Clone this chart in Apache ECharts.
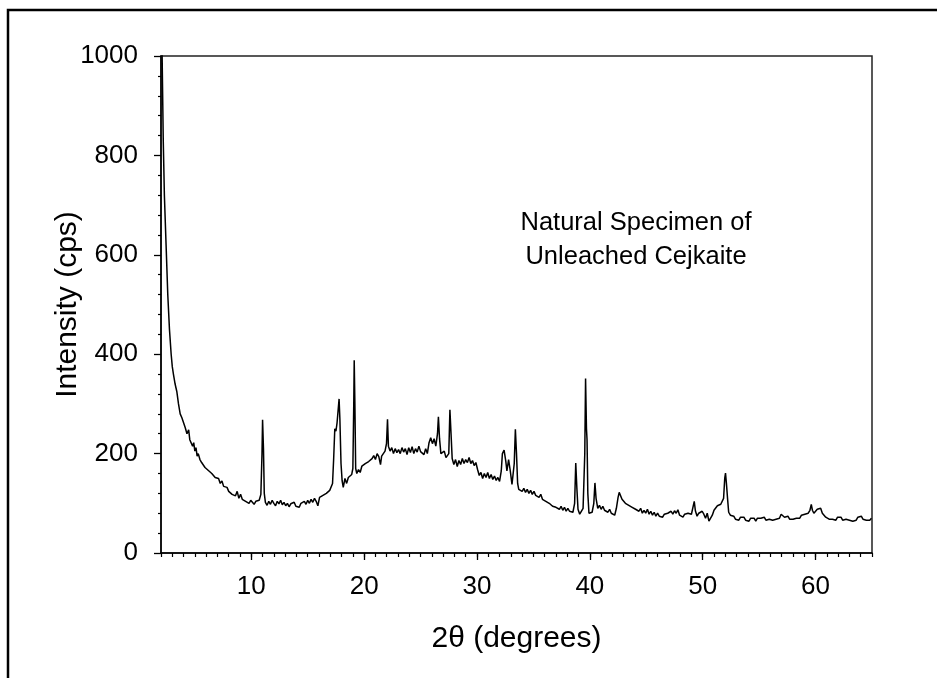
<!DOCTYPE html>
<html>
<head>
<meta charset="utf-8">
<script src="https://cdn.jsdelivr.net/npm/echarts@6/dist/echarts.min.js"></script>
<style>
  html, body { margin: 0; padding: 0; background: #fff; }
  #chart { width: 937px; height: 678px; }
</style>
</head>
<body>
<div id="chart"></div>
<script>
// 2-theta positions (degrees) and intensities (cps)
var twoTheta = [
  2.02, 2.1, 2.2, 2.3, 2.45, 2.6, 2.75, 2.9, 3.0, 3.1, 3.25, 3.4, 3.55, 3.7, 3.85, 4.0, 4.15, 4.3, 4.45, 4.55,
  4.7, 4.8, 4.9, 5.0, 5.1, 5.2, 5.3, 5.45, 5.6, 5.75, 5.9, 6.05, 6.2, 6.35, 6.5, 6.65, 6.8, 6.95, 7.1, 7.25,
  7.4, 7.55, 7.7, 7.85, 8.0, 8.15, 8.3, 8.45, 8.6, 8.75, 8.9, 9.05, 9.2, 9.35, 9.5, 9.65, 9.8, 9.95, 10.1, 10.25,
  10.4, 10.55, 10.7, 10.85, 10.95, 11.0, 11.08, 11.15, 11.25, 11.4, 11.55, 11.7, 11.85, 12.0, 12.15, 12.3, 12.45, 12.6, 12.75, 12.9,
  13.05, 13.2, 13.35, 13.5, 13.65, 13.8, 13.95, 14.1, 14.25, 14.4, 14.55, 14.7, 14.85, 15.0, 15.15, 15.3, 15.45, 15.6, 15.75, 15.9,
  16.05, 16.2, 16.35, 16.5, 16.65, 16.8, 16.95, 17.1, 17.2, 17.3, 17.4, 17.5, 17.6, 17.7, 17.78, 17.85, 17.95, 18.05, 18.15, 18.3,
  18.45, 18.6, 18.75, 18.9, 19.0, 19.08, 19.12, 19.18, 19.25, 19.35, 19.5, 19.65, 19.8, 19.95, 20.1, 20.25, 20.4, 20.55, 20.7, 20.85,
  21.0, 21.15, 21.3, 21.45, 21.55, 21.7, 21.85, 21.98, 22.07, 22.15, 22.3, 22.45, 22.6, 22.75, 22.9, 23.05, 23.2, 23.35, 23.5, 23.65,
  23.8, 23.95, 24.1, 24.25, 24.4, 24.55, 24.7, 24.85, 25.0, 25.15, 25.3, 25.45, 25.6, 25.75, 25.9, 26.05, 26.2, 26.35, 26.5, 26.58,
  26.68, 26.8, 26.95, 27.1, 27.25, 27.4, 27.5, 27.6, 27.7, 27.8, 27.95, 28.1, 28.25, 28.4, 28.55, 28.7, 28.85, 29.0, 29.15, 29.3,
  29.45, 29.6, 29.75, 29.9, 30.05, 30.2, 30.35, 30.5, 30.65, 30.8, 30.95, 31.1, 31.25, 31.4, 31.55, 31.7, 31.85, 32.0, 32.15, 32.25,
  32.4, 32.55, 32.65, 32.8, 32.95, 33.1, 33.2, 33.3, 33.4, 33.5, 33.6, 33.7, 33.85, 34.0, 34.15, 34.3, 34.45, 34.6, 34.75, 34.9,
  35.05, 35.2, 35.35, 35.5, 35.65, 35.8, 35.95, 36.1, 36.25, 36.4, 36.55, 36.7, 36.85, 37.0, 37.15, 37.3, 37.45, 37.6, 37.75, 37.9,
  38.05, 38.2, 38.35, 38.5, 38.65, 38.75, 38.85, 38.95, 39.1, 39.25, 39.4, 39.55, 39.62, 39.7, 39.75, 39.82, 39.92, 40.05, 40.2, 40.35,
  40.45, 40.55, 40.7, 40.85, 41.0, 41.15, 41.3, 41.45, 41.6, 41.75, 41.9, 42.05, 42.2, 42.35, 42.5, 42.6, 42.7, 42.85, 43.0, 43.15,
  43.3, 43.45, 43.6, 43.75, 43.9, 44.05, 44.2, 44.35, 44.5, 44.65, 44.8, 44.95, 45.1, 45.25, 45.4, 45.55, 45.7, 45.85, 46.0, 46.15,
  46.3, 46.45, 46.6, 46.75, 46.9, 47.05, 47.2, 47.35, 47.5, 47.65, 47.8, 47.95, 48.1, 48.25, 48.4, 48.55, 48.7, 48.85, 49.0, 49.15,
  49.25, 49.35, 49.5, 49.65, 49.8, 49.95, 50.1, 50.25, 50.4, 50.55, 50.7, 50.85, 51.0, 51.15, 51.3, 51.45, 51.6, 51.75, 51.85, 51.95,
  52.02, 52.1, 52.2, 52.3, 52.45, 52.6, 52.75, 52.9, 53.05, 53.2, 53.35, 53.5, 53.65, 53.8, 53.95, 54.1, 54.25, 54.4, 54.55, 54.7,
  54.85, 55.0, 55.15, 55.3, 55.45, 55.6, 55.75, 55.9, 56.05, 56.2, 56.35, 56.5, 56.65, 56.8, 56.95, 57.1, 57.25, 57.4, 57.55, 57.7,
  57.85, 58.0, 58.15, 58.3, 58.45, 58.6, 58.75, 58.9, 59.05, 59.2, 59.35, 59.5, 59.62, 59.72, 59.85, 60.0, 60.15, 60.3, 60.45, 60.6,
  60.75, 60.9, 61.05, 61.2, 61.35, 61.5, 61.65, 61.8, 61.95, 62.1, 62.25, 62.4, 62.55, 62.7, 62.85, 63.0, 63.15, 63.3, 63.45, 63.6,
  63.75, 63.9, 64.05, 64.2, 64.35, 64.5, 64.65, 64.8, 64.95
];
var intensity = [
  1150, 1000, 830, 720, 620, 520, 450, 400, 375, 360, 340, 325, 300, 280, 272, 262, 252, 240, 248, 228,
  232, 215, 222, 205, 212, 195, 200, 188, 182, 178, 172, 175, 166, 168, 160, 156, 152, 148, 150, 140,
  145, 134, 130, 132, 124, 128, 118, 122, 115, 124, 110, 118, 108, 112, 104, 108, 100, 106, 102, 98,
  104, 100, 106, 118, 200, 268, 210, 120, 102, 96, 104, 98, 106, 100, 95, 104, 99, 106, 97, 102,
  95, 100, 93, 99, 95, 102, 94, 98, 92, 100, 96, 104, 98, 106, 100, 108, 102, 110, 104, 95,
  112, 108, 116, 112, 120, 118, 126, 130, 140, 190, 250, 245, 262, 258, 310, 270, 180, 145, 132, 150,
  140, 152, 148, 158, 170, 300, 388, 300, 170, 160, 168, 162, 175, 172, 180, 176, 184, 180, 190, 196,
  188, 200, 194, 178, 195, 192, 205, 220, 269, 215, 205, 212, 200, 210, 202, 208, 200, 212, 203, 210,
  198, 212, 202, 214, 200, 210, 203, 215, 204, 208, 198, 210, 200, 222, 232, 220, 230, 215, 240, 274,
  230, 200, 196, 205, 192, 188, 200, 288, 240, 190, 178, 188, 174, 186, 178, 190, 180, 188, 182, 192,
  180, 186, 176, 182, 168, 156, 162, 150, 160, 152, 162, 150, 158, 148, 155, 146, 152, 144, 165, 200,
  207, 185, 165, 188, 165, 138, 135, 180, 249, 200, 140, 128, 132, 124, 130, 122, 128, 120, 126, 118,
  124, 116, 120, 112, 118, 108, 112, 104, 108, 100, 104, 94, 98, 92, 96, 88, 94, 86, 92, 84,
  90, 84, 88, 82, 100, 181, 130, 88, 78, 82, 90, 200, 351, 250, 228, 120, 80, 84, 82, 100,
  141, 110, 90, 96, 88, 94, 86, 90, 82, 88, 80, 84, 76, 90, 112, 122, 118, 108, 112, 100,
  104, 96, 100, 92, 96, 88, 92, 84, 90, 80, 86, 80, 88, 78, 84, 76, 82, 74, 80, 74,
  78, 72, 78, 74, 80, 76, 84, 78, 85, 80, 87, 76, 80, 72, 78, 74, 80, 76, 78, 82,
  104, 85, 74, 80, 76, 84, 78, 70, 80, 64, 66, 76, 86, 90, 95, 92, 98, 96, 110, 150,
  161, 140, 110, 82, 76, 72, 74, 68, 72, 66, 72, 68, 72, 66, 70, 64, 70, 66, 70, 64,
  70, 66, 70, 68, 72, 66, 70, 68, 72, 66, 70, 68, 72, 70, 78, 74, 72, 70, 74, 68,
  72, 68, 72, 70, 74, 70, 76, 72, 78, 82, 80, 86, 98, 86, 80, 84, 88, 84, 90, 80,
  76, 72, 74, 68, 72, 68, 72, 66, 72, 68, 72, 66, 70, 68, 72, 66, 70, 64, 68, 66,
  72, 68, 74, 68, 72, 66, 70, 66, 70
];
var xMajorTicks = [10, 20, 30, 40, 50, 60];
var xMinorTicks = [];
for (var t = 2; t <= 65; t++) xMinorTicks.push(t);

var points = twoTheta.map(function (x, i) { return [x, intensity[i]]; });

var font = 'Liberation Sans, Arial, sans-serif';
var myChart = echarts.init(document.getElementById('chart'));
myChart.setOption({
    backgroundColor: '#fff',
    animation: false,
    grid: {
        left: 161, right: 65, top: 56, bottom: 125,
        show: true, borderColor: '#222', borderWidth: 1.5
    },
    graphic: [{
        type: 'rect',
        shape: { x: 8, y: 10, width: 950, height: 690 },
        style: { fill: 'none', stroke: '#000', lineWidth: 2.5 }
    }, {
        type: 'text',
        x: 636, y: 206,
        style: {
            text: 'Natural Specimen of\nUnleached Cejkaite',
            font: '25.5px ' + font,
            fill: '#000',
            textAlign: 'center',
            lineHeight: 34
        }
    }],
    xAxis: [{
        type: 'value', min: 2, max: 65,
        name: '2θ (degrees)', nameLocation: 'middle', nameGap: 71,
        nameMoveOverlap: false,
        nameTextStyle: { color: '#000', fontSize: 30, fontFamily: font },
        axisLine: { lineStyle: { color: '#000', width: 1.5 } },
        axisTick: { customValues: xMajorTicks, length: 7, lineStyle: { color: '#000', width: 1.3 } },
        axisLabel: { customValues: xMajorTicks, margin: 21, color: '#000', fontSize: 26, fontFamily: font },
        splitLine: { show: false }
    }, {
        type: 'value', min: 2, max: 65, position: 'bottom',
        axisLine: { show: false },
        axisTick: { customValues: xMinorTicks, length: 4, lineStyle: { color: '#000', width: 1.2 } },
        axisLabel: { show: false },
        splitLine: { show: false }
    }],
    yAxis: {
        type: 'value', min: 0, max: 1000, interval: 200,
        name: 'Intensity (cps)', nameLocation: 'middle', nameGap: 78,
        nameMoveOverlap: false,
        nameTextStyle: { color: '#000', fontSize: 30, fontFamily: font },
        axisLine: { show: true, lineStyle: { color: '#000', width: 1.5 } },
        axisTick: { show: true, length: 7, lineStyle: { color: '#000', width: 1.3 } },
        minorTick: { show: true, splitNumber: 5, length: 3, lineStyle: { color: '#000', width: 1.2 } },
        axisLabel: {
            margin: 23, color: '#000', fontSize: 26, fontFamily: font,
            formatter: function (v) { return String(v); }
        },
        splitLine: { show: false }
    },
    series: [{
        type: 'line',
        xAxisIndex: 0,
        data: points,
        showSymbol: false,
        symbol: 'none',
        clip: true,
        lineStyle: { color: '#000', width: 1.5 }
    }]
});
</script>
</body>
</html>
